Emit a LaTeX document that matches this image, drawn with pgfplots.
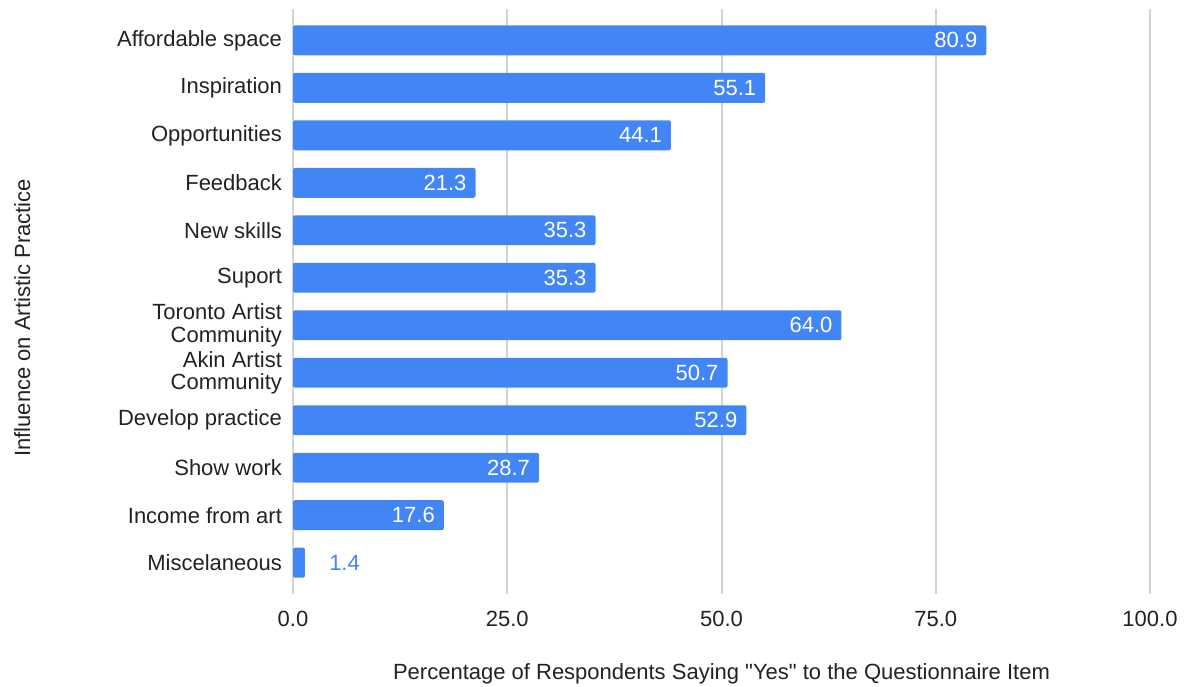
\documentclass[border=0pt]{standalone}
\usepackage{fontspec}
\setmainfont{Liberation Sans}[Ligatures=TeXOff]
\usepackage{pgfplots}
\pgfplotsset{compat=1.18}
\usepackage{pgfplotstable}

\definecolor{barblue}{HTML}{4285F4}
\definecolor{gridgray}{HTML}{D3D3D3}
\definecolor{axisgray}{HTML}{5F6368}
\definecolor{txt}{HTML}{222222}
\newcommand\chartfont{\fontsize{11pt}{11.2pt}\selectfont}

% row index (0 = top), share saying "yes"
\pgfplotstableread{
row value
0  80.9
1  55.1
2  44.1
3  21.3
4  35.3
5  35.3
6  64.0
7  50.7
8  52.9
9  28.7
10 17.6
}\mainrows
\pgfplotstableread{
row value
11 1.4
}\miscrow

\begin{document}
\begin{tikzpicture}
\path[use as bounding box] (0,0) rectangle (594.5pt,-343pt);
\begin{axis}[
  at={(146.5pt,-297pt)}, anchor=south west,
  scale only axis,
  width=428.5pt, height=292.5pt,
  xmin=0, xmax=100,
  ymin=-0.66, ymax=11.66,
  y dir=reverse,
  enlargelimits=false,
  xbar, bar width=0.63,
  axis line style={draw=none},
  major tick length=0pt,
  xtick={0,25,50,75,100},
  xmajorgrids,
  major grid style={color=gridgray, line width=1pt},
  extra x ticks={0},
  extra x tick labels={},
  extra x tick style={grid style={color=axisgray, line width=1pt}},
  ytick={0,...,11},
  yticklabels={Affordable space, Inspiration, Opportunities, Feedback, New skills, Suport,
    {Toronto Artist\\Community}, {Akin Artist\\Community}, Develop practice, Show work,
    Income from art, Miscelaneous},
  yticklabel style={font=\chartfont, color=txt, align=right, xshift=-2pt},
  xticklabel style={font=\chartfont, color=txt, yshift=-5pt,
    /pgf/number format/.cd, fixed, fixed zerofill, precision=1, assume math mode=true},
  xlabel={Percentage of Respondents Saying "Yes" to the Questionnaire Item},
  xlabel style={font=\chartfont, color=txt, at={(rel axis cs:0.5,-0.137)}, anchor=center},
  ylabel={Influence on Artistic Practice},
  ylabel style={font=\chartfont, color=txt, at={(rel axis cs:-0.316,0.472)}, anchor=center},
  point meta=x,
  nodes near coords={\pgfmathprintnumber[fixed, fixed zerofill, precision=1, assume math mode=true]{\pgfplotspointmeta}},
]
\addplot[xbar, bar shift=0pt, fill=barblue, draw=none, rounded corners=1pt,
  nodes near coords style={font=\chartfont, color=white, anchor=east, xshift=-1pt}]
  table[x=value, y=row] {\mainrows};
\addplot[xbar, bar shift=0pt, fill=barblue, draw=none, rounded corners=1pt,
  nodes near coords style={font=\chartfont, color=barblue, anchor=west, xshift=8.6pt}]
  table[x=value, y=row] {\miscrow};
\end{axis}
\end{tikzpicture}
\end{document}
